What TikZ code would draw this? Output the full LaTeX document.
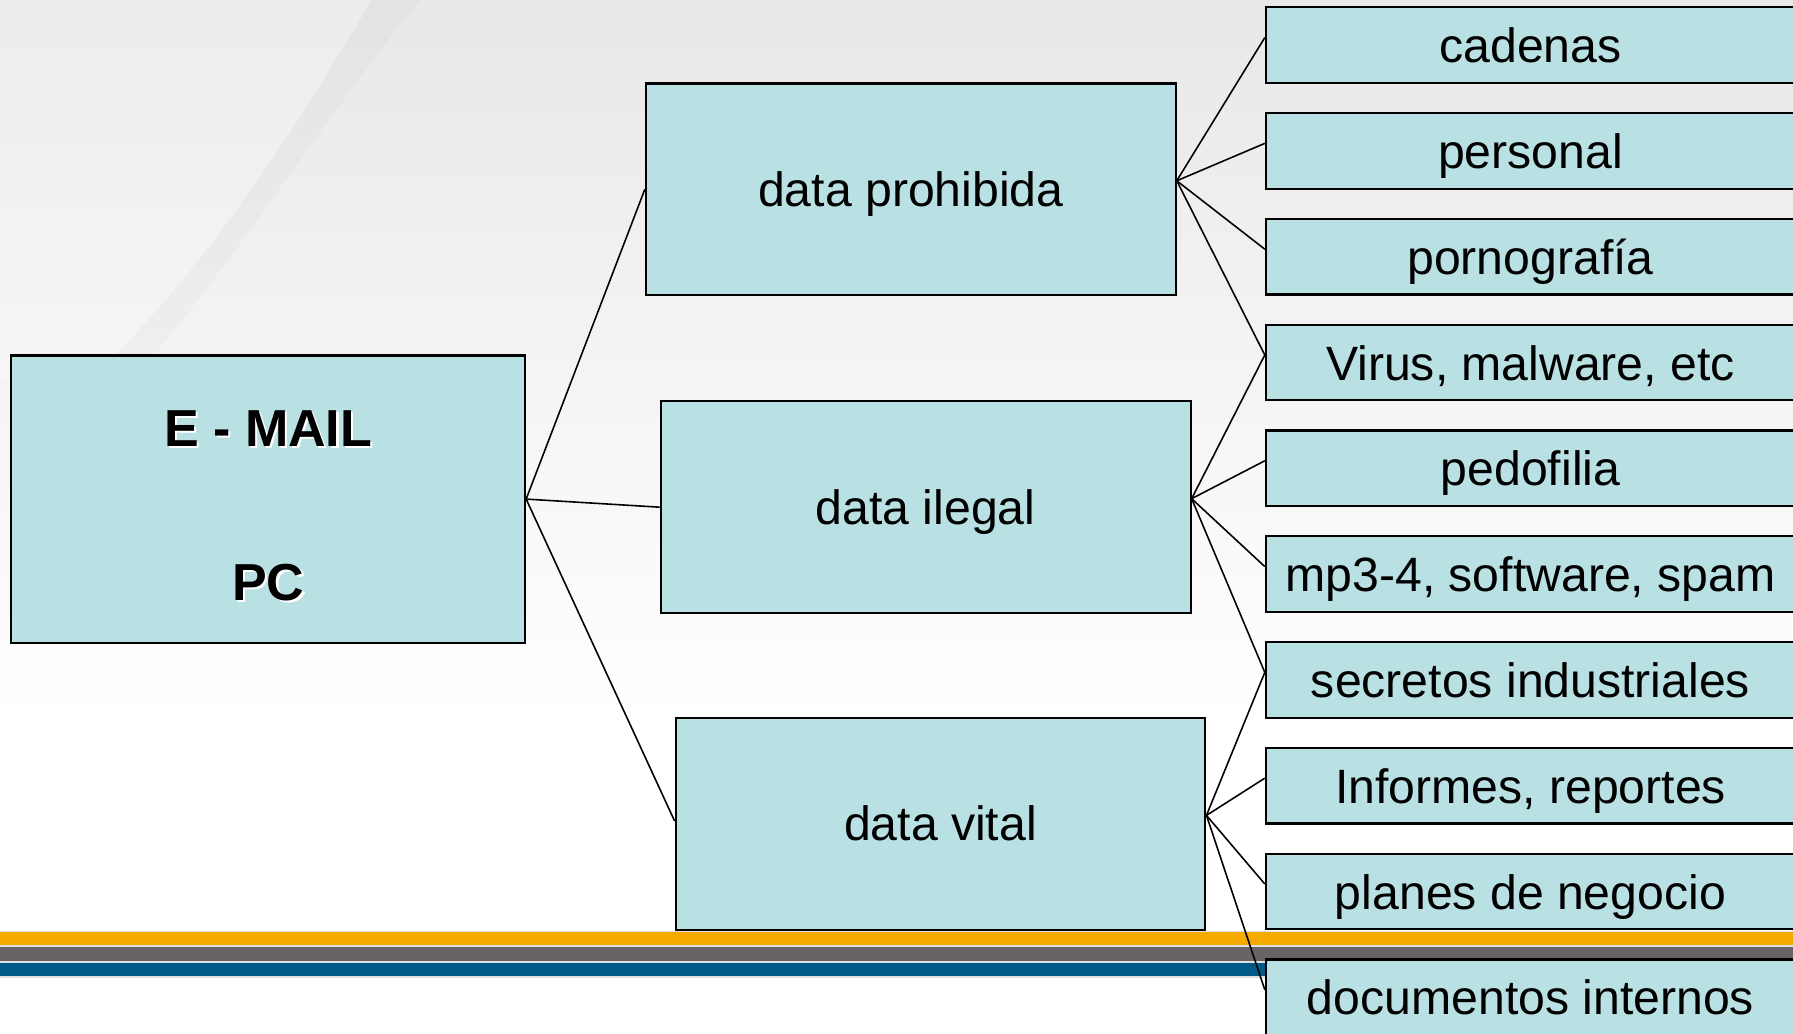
\documentclass[tikz,border=0pt]{standalone}
\usepackage{fontspec}
\setmainfont{Liberation Sans}
\usepackage{xcolor}
\usepackage{tikz}
\usetikzlibrary{calc}
\definecolor{cyanbox}{RGB}{185,224,227}
\definecolor{orangebar}{RGB}{245,170,0}
\definecolor{graybar}{RGB}{103,99,103}
\definecolor{bluebar}{RGB}{0,90,135}
\definecolor{bgtop}{RGB}{232,232,232}
\tikzset{
  box/.style = {draw=black, fill=cyanbox, line width=0.6pt, inner sep=0pt, align=center},
  mid/.style = {box, minimum width=5.295cm, minimum height=2.115cm, text height=0.5cm, text depth=0.16cm, font=\fontsize{13.7}{16}\selectfont},
  leaf/.style = {box, minimum width=5.29cm, minimum height=0.755cm, text height=0.5cm, text depth=0.15cm, font=\fontsize{13.7}{16}\selectfont},
  link/.style = {draw=black, line width=0.45pt}
}
\newcommand{\Shd}[1]{\makebox[0pt][l]{\kern0.7pt\raisebox{-0.7pt}{\color{white}#1}}#1}

\begin{document}
\begin{tikzpicture}[x=0.01cm,y=-0.01cm]
\useasboundingbox (0,0) rectangle (1793,1034);
\clip (0,0) rectangle (1793,1034);
% background
\fill[white] (0,0) rectangle (1793,1034);
\shade[top color=bgtop, bottom color=white] (0,0) rectangle (1793,720);
\fill[white,opacity=0.2] (0,0) -- (372,0) .. controls (300,120) and (220,250) .. (110,360) -- (0,380) -- cycle;
\fill[black,opacity=0.018] (372,0) .. controls (300,120) and (220,250) .. (110,360) -- (150,360) .. controls (250,240) and (330,110) .. (420,0) -- cycle;
%\draw[step=100,gray,very thin] (0,0) grid (1793,1034);

% stripes
\fill[gray!25] (0,931) rectangle (1793,978);
\fill[orangebar] (0,932) rectangle (1793,945);
\fill[graybar] (0,947) rectangle (1793,961);
\fill[bluebar] (0,963) rectangle (1793,976.5);

\node[box, minimum width=5.135cm, minimum height=2.87cm, text height=2.02cm, text depth=0cm, font=\fontsize{14.8}{43.8}\selectfont\bfseries] (mail) at (268.2,499.1) {\Shd{E - MAIL}\\\Shd{PC}};

\node[mid] (prohib) at (910.8,189.3) {data prohibida};
\node[mid] (ilegal) at (925.7,507.2) {data ilegal};
\node[mid] (vital) at (940.5,823.9) {data vital};

\node[leaf] (cad) at (1530.5,45.1) {cadenas};
\node[leaf] (pers) at (1530.5,150.9) {personal};
\node[leaf] (porno) at (1530.5,256.7) {pornografía};
\node[leaf] (virus) at (1530.5,362.5) {Virus, malware, etc};
\node[leaf] (pedo) at (1530.5,468.3) {pedofilia};
\node[leaf] (mp3) at (1530.5,574.1) {mp3-4, software, spam};
\node[leaf] (secr) at (1530.5,679.9) {secretos industriales};
\node[leaf] (inf) at (1530.5,785.7) {Informes, reportes};
\node[leaf] (plan) at (1530.5,891.5) {planes de negocio};
\node[leaf] (docs) at (1530.5,997.3) {documentos internos};

\draw[link] (mail.east) -- (prohib.west);
\draw[link] (mail.east) -- (ilegal.west);
\draw[link] (mail.east) -- ([yshift=.03cm]vital.west);

\draw[link] ([yshift=.085cm]prohib.east) -- ([yshift=.075cm]cad.west);
\draw[link] ([yshift=.085cm]prohib.east) -- ([yshift=.075cm]pers.west);
\draw[link] ([yshift=.085cm]prohib.east) -- ([yshift=.075cm]porno.west);
\draw[link] ([yshift=.085cm]prohib.east) -- ([yshift=.075cm]virus.west);

\draw[link] ([yshift=.085cm]ilegal.east) -- ([yshift=.075cm]virus.west);
\draw[link] ([yshift=.085cm]ilegal.east) -- ([yshift=.075cm]pedo.west);
\draw[link] ([yshift=.085cm]ilegal.east) -- ([yshift=.075cm]mp3.west);
\draw[link] ([yshift=.085cm]ilegal.east) -- ([yshift=.075cm]secr.west);

\draw[link] ([yshift=.085cm]vital.east) -- ([yshift=.075cm]secr.west);
\draw[link] ([yshift=.085cm]vital.east) -- ([yshift=.075cm]inf.west);
\draw[link] ([yshift=.085cm]vital.east) -- ([yshift=.075cm]plan.west);
\draw[link] ([yshift=.085cm]vital.east) -- ([yshift=.075cm]docs.west);
\end{tikzpicture}
\end{document}
